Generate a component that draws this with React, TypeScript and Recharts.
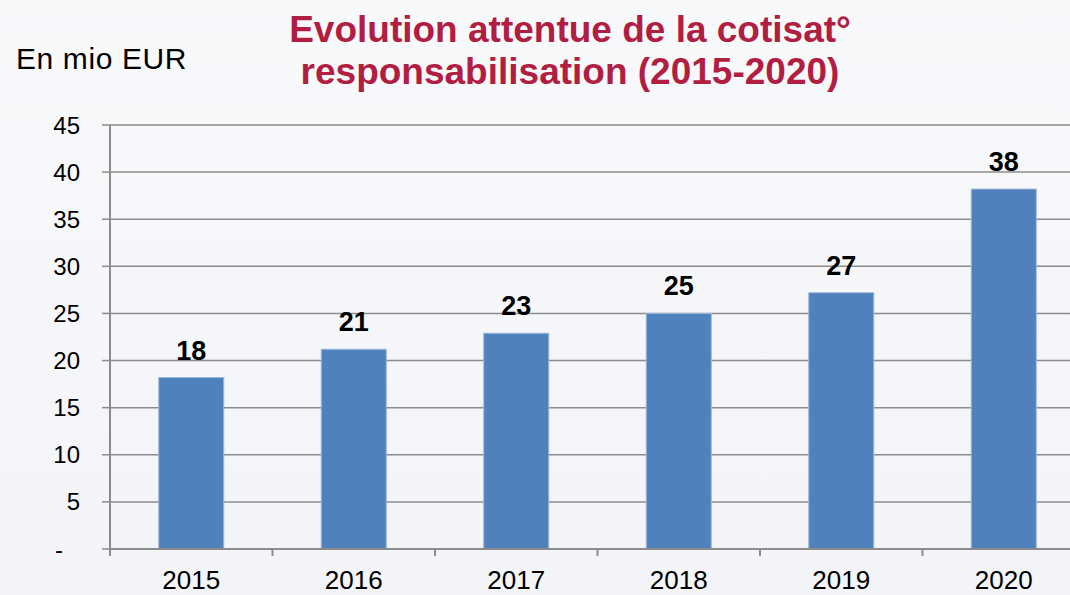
import React from "react";
import { BarChart, Bar, XAxis, YAxis, CartesianGrid, LabelList } from "recharts";

const years = ["2015", "2016", "2017", "2018", "2019", "2020"];
const values = [18.2, 21.2, 22.9, 25.0, 27.2, 38.2];
const yTicks = [0, 5, 10, 15, 20, 25, 30, 35, 40, 45];
const titleLines = ["Evolution attentue de la cotisat°", "responsabilisation (2015-2020)"];
const unitLabel = "En mio EUR";

const data = years.map((y, i) => ({ year: y, value: values[i] }));

const FONT = "'Liberation Sans', Arial, sans-serif";
const GRID = "#8C8C8C";
const CHART_W = 1090;
const CHART_H = 595;
const M = { top: 125, right: 5, left: 0, bottom: 0 };
const Y_W = 110;
const X_H = 46;
const BAND = (CHART_W - M.left - M.right - Y_W) / years.length;

const XTick = (props: any) => {
  const { x, y, payload, index } = props;
  const left = x - BAND / 2;
  return (
    <g>
      <line x1={left} x2={left} y1={y} y2={y + 7} stroke={GRID} strokeWidth={2} />
      {index === years.length - 1 && (
        <line x1={x + BAND / 2} x2={x + BAND / 2} y1={y} y2={y + 7} stroke={GRID} strokeWidth={2} />
      )}
      <text x={x} y={y + 40} textAnchor="middle" fontSize={26} fontFamily={FONT} fill="#000">
        {payload.value}
      </text>
    </g>
  );
};

const YTick = (props: any) => {
  const { x, y, payload } = props;
  const isZero = payload.value === 0;
  return (
    <text
      x={isZero ? x - 17 : x}
      y={y}
      dy="0.355em"
      textAnchor="end"
      fontSize={24}
      fontFamily={FONT}
      fill="#000"
    >
      {isZero ? "-" : payload.value}
    </text>
  );
};

export default function App() {
  return (
    <div
      style={{
        position: "fixed",
        left: 0,
        top: 0,
        width: 1070,
        height: 595,
        overflow: "hidden",
        background: "linear-gradient(#F8F9FB, #F3F4F7)",
        fontFamily: FONT,
      }}
    >
      <BarChart
        width={CHART_W}
        height={CHART_H}
        data={data}
        margin={M}
        barCategoryGap="30%"
        style={{ position: "absolute", left: 0, top: 0 }}
      >
        <CartesianGrid vertical={false} stroke={GRID} strokeWidth={1.5} />
        <XAxis
          dataKey="year"
          height={X_H}
          axisLine={{ stroke: GRID, strokeWidth: 2 }}
          tickLine={false}
          tickSize={0}
          tickMargin={0}
          interval={0}
          tick={<XTick />}
        />
        <YAxis
          width={Y_W}
          domain={[0, 45]}
          ticks={yTicks}
          interval={0}
          axisLine={{ stroke: GRID, strokeWidth: 2 }}
          tickLine={{ stroke: GRID, strokeWidth: 1.5 }}
          tickSize={8}
          tickMargin={22}
          tick={<YTick />}
        />
        <Bar dataKey="value" fill="#4F81BD" stroke="#9DB6D8" strokeWidth={1} isAnimationActive={false}>
          <LabelList
            dataKey="value"
            position="top"
            offset={18}
            formatter={(v: any) => Math.round(Number(v))}
            fill="#000"
            fontSize={27}
            fontWeight="bold"
            fontFamily={FONT}
          />
        </Bar>
      </BarChart>
      <div
        style={{
          position: "absolute",
          left: 16,
          top: 44,
          fontSize: 30,
          lineHeight: "30px",
          letterSpacing: 0.6,
          color: "#000",
          whiteSpace: "nowrap",
        }}
      >
        {unitLabel}
      </div>
      <div
        style={{
          position: "absolute",
          left: 270,
          width: 600,
          top: 9,
          textAlign: "center",
          fontSize: 37,
          lineHeight: "42px",
          fontWeight: "bold",
          color: "#B11E42",
          whiteSpace: "nowrap",
        }}
      >
        {titleLines.map((l) => (
          <div key={l}>{l}</div>
        ))}
      </div>
    </div>
  );
}
